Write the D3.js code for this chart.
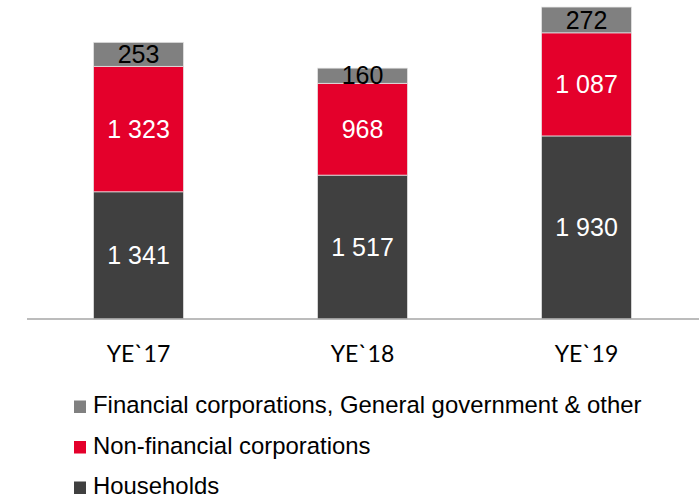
<!DOCTYPE html>
<html lang="en">
<head>
    <meta charset="UTF-8">
    <title>Loans by sector</title>
    <script src="https://d3js.org/d3.v7.min.js"></script>
    <style>
        body {
            margin: 0;
            background-color: #ffffff;
        }
        .value-label {
            font-family: 'Liberation Sans', Arial, sans-serif;
            font-size: 25px;
        }
        .cat-label {
            font-family: 'Lato', sans-serif;
            font-size: 23px;
            fill: #000000;
        }
        .legend-label {
            font-family: 'Liberation Sans', Arial, sans-serif;
            font-size: 23.9px;
            fill: #000000;
        }
    </style>
</head>
<body>
    <svg id="chart"></svg>

    <script>
        // Data
        const categories = ["YE`17", "YE`18", "YE`19"];
        const households = [1341, 1517, 1930];
        const nonFinancial = [1323, 968, 1087];
        const financialOther = [253, 160, 272];

        const seriesNames = ["Households", "Non-financial corporations", "Financial corporations, General government & other"];
        const seriesColors = ["#404040", "#e4002b", "#808080"];
        const labelColors = ["#ffffff", "#ffffff", "#000000"];

        const width = 700;
        const height = 497;

        const svg = d3.select("#chart")
            .attr("width", width)
            .attr("height", height);

        // Scales
        const x = d3.scaleBand()
            .domain(categories)
            .range([26.5, 698.5])
            .paddingInner(0.598)
            .paddingOuter(0.299);

        const y = d3.scaleLinear()
            .domain([0, 3300])
            .range([319, 6]);

        // Stack the series
        const rows = categories.map((c, i) => ({
            cat: c,
            s0: households[i],
            s1: nonFinancial[i],
            s2: financialOther[i]
        }));
        const stacked = d3.stack().keys(["s0", "s1", "s2"])(rows);

        // Bars
        const layers = svg.selectAll(".layer")
            .data(stacked)
            .enter()
            .append("g")
            .attr("class", "layer");

        layers.selectAll("rect")
            .data((d, k) => d.map(p => ({ p, k })))
            .enter()
            .append("rect")
            .attr("x", d => x(d.p.data.cat))
            .attr("y", d => y(d.p[1]))
            .attr("width", x.bandwidth())
            .attr("height", d => y(d.p[0]) - y(d.p[1]))
            .attr("fill", d => seriesColors[d.k])
            .attr("stroke", "#e6e6e6")
            .attr("stroke-width", 0.75);

        // Value labels
        const fmt = v => d3.format(",")(v).replace(/,/g, " ");
        layers.selectAll("text")
            .data((d, k) => d.map(p => ({ p, k })))
            .enter()
            .append("text")
            .attr("class", "value-label")
            .attr("x", d => x(d.p.data.cat) + x.bandwidth() / 2)
            .attr("y", d => (y(d.p[0]) + y(d.p[1])) / 2)
            .attr("dy", "0.35em")
            .attr("text-anchor", "middle")
            .attr("fill", d => labelColors[d.k])
            .text(d => fmt(d.p[1] - d.p[0]));

        // Baseline axis
        svg.append("line")
            .attr("x1", 27)
            .attr("x2", 699)
            .attr("y1", y(0))
            .attr("y2", y(0))
            .attr("stroke", "#a6a6a6")
            .attr("stroke-width", 1.5);

        // Category labels
        svg.selectAll(".cat-label")
            .data(categories)
            .enter()
            .append("text")
            .attr("class", "cat-label")
            .attr("x", d => x(d) + x.bandwidth() / 2)
            .attr("y", 362)
            .attr("text-anchor", "middle")
            .text(d => d);

        // Legend (top series first)
        const legendOrder = [2, 1, 0];
        const legend = svg.selectAll(".legend-item")
            .data(legendOrder)
            .enter()
            .append("g")
            .attr("class", "legend-item")
            .attr("transform", (d, i) => `translate(74,${413 + i * 40.5})`);

        legend.append("rect")
            .attr("x", 0)
            .attr("y", -12.5)
            .attr("width", 12)
            .attr("height", 12.5)
            .attr("fill", d => seriesColors[d]);

        legend.append("text")
            .attr("class", "legend-label")
            .attr("x", 19)
            .attr("y", 0)
            .text(d => seriesNames[d]);
    </script>
</body>
</html>
